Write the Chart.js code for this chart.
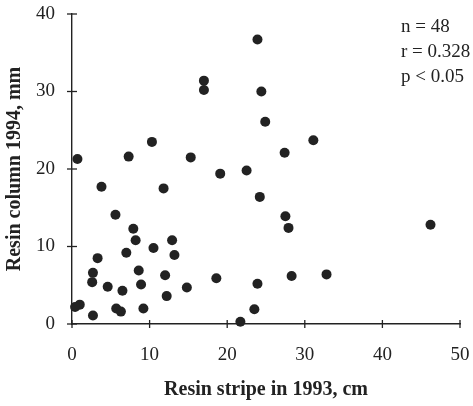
<!DOCTYPE html>
<html>
<head>
<meta charset="utf-8">
<script src="https://cdn.jsdelivr.net/npm/chart.js@4"></script>
<style>
  html, body { margin: 0; padding: 0; background: #fff; }
  #wrap { width: 473px; height: 406px; }
</style>
</head>
<body>
<div id="wrap"><canvas id="c" width="473" height="406"></canvas></div>
<script>
// Resin stripe length in 1993 (cm) and resin column in 1994 (mm), one entry per tree
const stripe1993 = [23.9, 17.0, 17.0, 24.4, 24.9, 10.3, 0.7, 7.3, 15.3, 19.1, 22.5, 24.2,
  3.8, 11.8, 5.6, 7.9, 8.2, 12.9, 10.5, 7.0, 13.2, 3.3, 8.6, 2.7,
  12.0, 18.6, 23.9, 2.6, 8.9, 4.6, 14.8, 6.5, 12.2, 1.0, 0.4, 5.7,
  6.3, 9.2, 2.7, 23.5, 21.7, 27.5, 27.9, 46.2, 28.3, 32.8, 31.1, 27.4];
const column1994 = [36.7, 31.4, 30.2, 30.0, 26.1, 23.5, 21.3, 21.6, 21.5, 19.4, 19.8, 16.4,
  17.7, 17.5, 14.1, 12.3, 10.8, 10.8, 9.8, 9.2, 8.9, 8.5, 6.9, 6.6,
  6.3, 5.9, 5.2, 5.4, 5.1, 4.8, 4.7, 4.3, 3.6, 2.5, 2.2, 2.0,
  1.6, 2.0, 1.1, 1.9, 0.3, 13.9, 12.4, 12.8, 6.2, 6.4, 23.7, 22.1];
const xTicks = [0, 10, 20, 30, 40, 50];
const yTicks = [0, 10, 20, 30, 40];
const statLines = ['n = 48', 'r = 0.328', 'p < 0.05'];

const SERIF = '"Liberation Serif", "Times New Roman", serif';
const INK = '#222';

const points = stripe1993.map((x, i) => ({ x: x, y: column1994[i] }));

// Short tick marks that cross each axis line
const crossTicks = {
  id: 'crossTicks',
  afterDraw(chart) {
    const { ctx, scales: { x, y } } = chart;
    ctx.save();
    ctx.strokeStyle = INK;
    ctx.lineWidth = 1.3;
    const y0 = y.getPixelForValue(0);
    xTicks.forEach(v => {
      const px = x.getPixelForValue(v);
      ctx.beginPath(); ctx.moveTo(px, y0 - 4); ctx.lineTo(px, y0 + 4); ctx.stroke();
    });
    const x0 = x.getPixelForValue(0);
    yTicks.forEach(v => {
      const py = y.getPixelForValue(v);
      ctx.beginPath(); ctx.moveTo(x0 - 5, py); ctx.lineTo(x0 + 5, py); ctx.stroke();
    });
    ctx.restore();
  }
};

// Sample size and correlation statistics in the upper right
const statsNote = {
  id: 'statsNote',
  afterDraw(chart) {
    const { ctx } = chart;
    ctx.save();
    ctx.fillStyle = INK;
    ctx.font = '19px ' + SERIF;
    ctx.textAlign = 'left';
    ctx.textBaseline = 'alphabetic';
    statLines.forEach((t, i) => ctx.fillText(t, 401, 32 + i * 24.8));
    ctx.restore();
  }
};

new Chart(document.getElementById('c'), {
  type: 'scatter',
  data: {
    datasets: [{
      data: points,
      pointRadius: 5,
      pointHoverRadius: 5,
      pointBackgroundColor: INK,
      pointBorderColor: INK,
      pointBorderWidth: 0,
      clip: false
    }]
  },
  options: {
    responsive: false,
    animation: false,
    events: [],
    layout: { padding: { top: 14, right: 13, bottom: 0, left: 0 } },
    plugins: { legend: { display: false }, tooltip: { enabled: false } },
    scales: {
      x: {
        type: 'linear',
        min: 0, max: 50,
        afterFit(s) { s.height = 82; },
        afterBuildTicks(s) { s.ticks = xTicks.map(v => ({ value: v })); },
        grid: { display: true, drawOnChartArea: false, drawTicks: true, tickLength: 20, tickColor: 'rgba(0,0,0,0)' },
        border: { display: true, color: INK, width: 1.4 },
        ticks: { color: INK, padding: 0, font: { family: SERIF, size: 19 }, maxRotation: 0 },
        title: {
          display: true,
          text: 'Resin stripe in 1993, cm',
          color: INK,
          font: { family: SERIF, size: 20, weight: 'bold' },
          padding: { top: 0, bottom: 4 }
        }
      },
      y: {
        type: 'linear',
        min: 0, max: 40,
        afterFit(s) { s.width = 72; },
        afterBuildTicks(s) { s.ticks = yTicks.map(v => ({ value: v })); },
        grid: { display: true, drawOnChartArea: false, drawTicks: true, tickLength: 17, tickColor: 'rgba(0,0,0,0)' },
        border: { display: true, color: INK, width: 1.4 },
        ticks: { color: INK, padding: 0, font: { family: SERIF, size: 19 } },
        title: {
          display: true,
          text: 'Resin column 1994, mm',
          color: INK,
          font: { family: SERIF, size: 20, weight: 'bold' },
          padding: { top: 3, bottom: 0 }
        }
      }
    }
  },
  plugins: [crossTicks, statsNote]
});
</script>
</body>
</html>
